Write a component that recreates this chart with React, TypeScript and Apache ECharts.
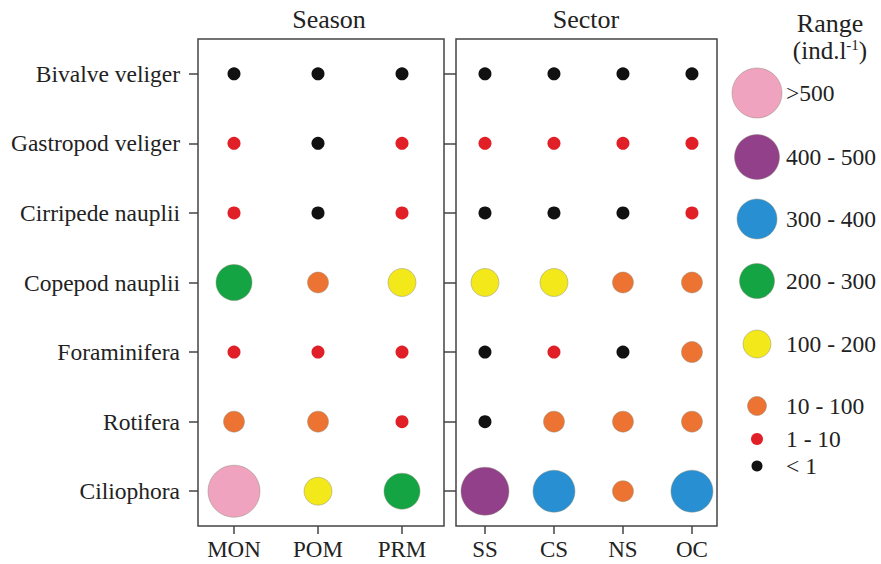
import React, { useEffect, useRef } from "react";
import * as echarts from "echarts";

const taxa = [
  "Bivalve veliger",
  "Gastropod veliger",
  "Cirripede nauplii",
  "Copepod nauplii",
  "Foraminifera",
  "Rotifera",
  "Ciliophora",
];
const seasons = ["MON", "POM", "PRM"];
const sectors = ["SS", "CS", "NS", "OC"];
const rangeLabels = ["< 1", "1 - 10", "10 - 100", "100 - 200", "200 - 300", "300 - 400", "400 - 500", ">500"];
const rangeColors = ["#111111", "#E01F26", "#EC7332", "#F3E81A", "#15A444", "#2890D2", "#93408A", "#EFA3BE"];
const rangeSizes = [13, 13, 21, 28, 36, 42, 48, 52];
const legendSizes = [11, 12, 19, 28, 35, 40, 45, 50];
const legendY = [466, 439, 406, 344, 281, 219, 157, 93];

// range class index per taxon (rows) and season / sector (columns)
const seasonClasses = [
  [0, 0, 0],
  [1, 0, 1],
  [1, 0, 1],
  [4, 2, 3],
  [1, 1, 1],
  [2, 2, 1],
  [7, 3, 4],
];
const sectorClasses = [
  [0, 0, 0, 0],
  [1, 1, 1, 1],
  [0, 0, 0, 1],
  [3, 3, 2, 2],
  [0, 1, 0, 2],
  [0, 2, 2, 2],
  [6, 5, 2, 5],
];

const FONT = "Liberation Serif";
const INK = "#222";
const LINE = "#444";

function buildData(classes: number[][]) {
  const out: any[] = [];
  classes.forEach((row, r) => {
    row.forEach((c, i) => {
      out.push({
        value: [i, taxa[r], c],
        symbolSize: rangeSizes[c],
        itemStyle: {
          color: rangeColors[c],
          opacity: 1,
          borderColor: c >= 2 ? "rgba(140,140,120,0.45)" : rangeColors[c],
          borderWidth: c >= 2 ? 1 : 0,
        },
      });
    });
  });
  return out;
}

export default function App() {
  const ref = useRef<HTMLDivElement>(null);
  useEffect(() => {
    if (!ref.current) return;
    const chart = echarts.init(ref.current, null, { renderer: "svg" });
    const yBase = {
      type: "category" as const,
      data: taxa,
      inverse: true,
      axisLine: { show: false, onZero: false },
      splitLine: { show: false },
    };
    const xBase = {
      type: "value" as const,
      axisLine: { show: false, onZero: false },
      splitLine: { show: false },
    };
    const graphics: any[] = [
      { type: "text", x: 329, y: 19, style: { text: "Season", font: `26px "${FONT}"`, fill: INK, align: "center", verticalAlign: "middle" } },
      { type: "text", x: 586, y: 19, style: { text: "Sector", font: `26px "${FONT}"`, fill: INK, align: "center", verticalAlign: "middle" } },
      { type: "text", x: 830, y: 23, style: { text: "Range", font: `26px "${FONT}"`, fill: INK, align: "center", verticalAlign: "middle" } },
      {
        type: "text",
        x: 830,
        y: 50,
        style: {
          text: "(ind.l{sup|-1})",
          font: `25px "${FONT}"`,
          fill: INK,
          align: "center",
          verticalAlign: "middle",
          rich: { sup: { fontSize: 15, fontFamily: FONT, fill: INK, verticalAlign: "top", padding: [0, 0, 10, 0] } },
        },
      },
    ];
    rangeLabels.forEach((lab, i) => {
      graphics.push({
        type: "circle",
        shape: { cx: 757, cy: legendY[i], r: legendSizes[i] / 2 },
        style: { fill: rangeColors[i], stroke: i >= 2 ? "rgba(140,140,120,0.45)" : rangeColors[i], lineWidth: i >= 2 ? 1 : 0 },
      });
      graphics.push({
        type: "text",
        x: 786,
        y: legendY[i],
        style: { text: lab, font: `23.5px "${FONT}"`, fill: INK, align: "left", verticalAlign: "middle" },
      });
    });

    chart.setOption({
      animation: false,
      backgroundColor: "#fff",
      textStyle: { fontFamily: FONT },
      grid: [
        { left: 198, top: 39, width: 246, height: 487, show: true, borderColor: LINE, borderWidth: 1.5, backgroundColor: "transparent" },
        { left: 456, top: 39, width: 261, height: 487, show: true, borderColor: LINE, borderWidth: 1.5, backgroundColor: "transparent" },
      ],
      xAxis: [
        {
          ...xBase,
          gridIndex: 0,
          min: -0.4286,
          max: 2.5,
          axisTick: { show: true, length: 8, lineStyle: { color: LINE, width: 1.5 }, customValues: [0, 1, 2] },
          axisLabel: {
            customValues: [0, 1, 2],
            formatter: (v: number) => seasons[Math.round(v)] ?? "",
            fontFamily: FONT,
            fontSize: 23,
            color: INK,
            margin: 12,
          },
        },
        {
          ...xBase,
          gridIndex: 1,
          min: -0.42,
          max: 3.363,
          axisTick: { show: true, length: 8, lineStyle: { color: LINE, width: 1.5 }, customValues: [0, 1, 2, 3] },
          axisLabel: {
            customValues: [0, 1, 2, 3],
            formatter: (v: number) => sectors[Math.round(v)] ?? "",
            fontFamily: FONT,
            fontSize: 23,
            color: INK,
            margin: 12,
          },
        },
      ],
      yAxis: [
        {
          ...yBase,
          gridIndex: 0,
          axisTick: { show: true, alignWithLabel: true, length: 9, lineStyle: { color: LINE, width: 1.5 } },
          axisLabel: { fontFamily: FONT, fontSize: 23.5, color: INK, margin: 18 },
        },
        {
          ...yBase,
          gridIndex: 1,
          axisTick: { show: true, alignWithLabel: true, length: 12, lineStyle: { color: LINE, width: 1.5 } },
          axisLabel: { show: false },
        },
      ],
      series: [
        { type: "scatter", xAxisIndex: 0, yAxisIndex: 0, data: buildData(seasonClasses) },
        { type: "scatter", xAxisIndex: 1, yAxisIndex: 1, data: buildData(sectorClasses) },
      ],
      graphic: graphics,
    });
    return () => chart.dispose();
  }, []);
  return <div ref={ref} style={{ position: "fixed", left: 0, top: 0, width: 881, height: 564 }} />;
}
